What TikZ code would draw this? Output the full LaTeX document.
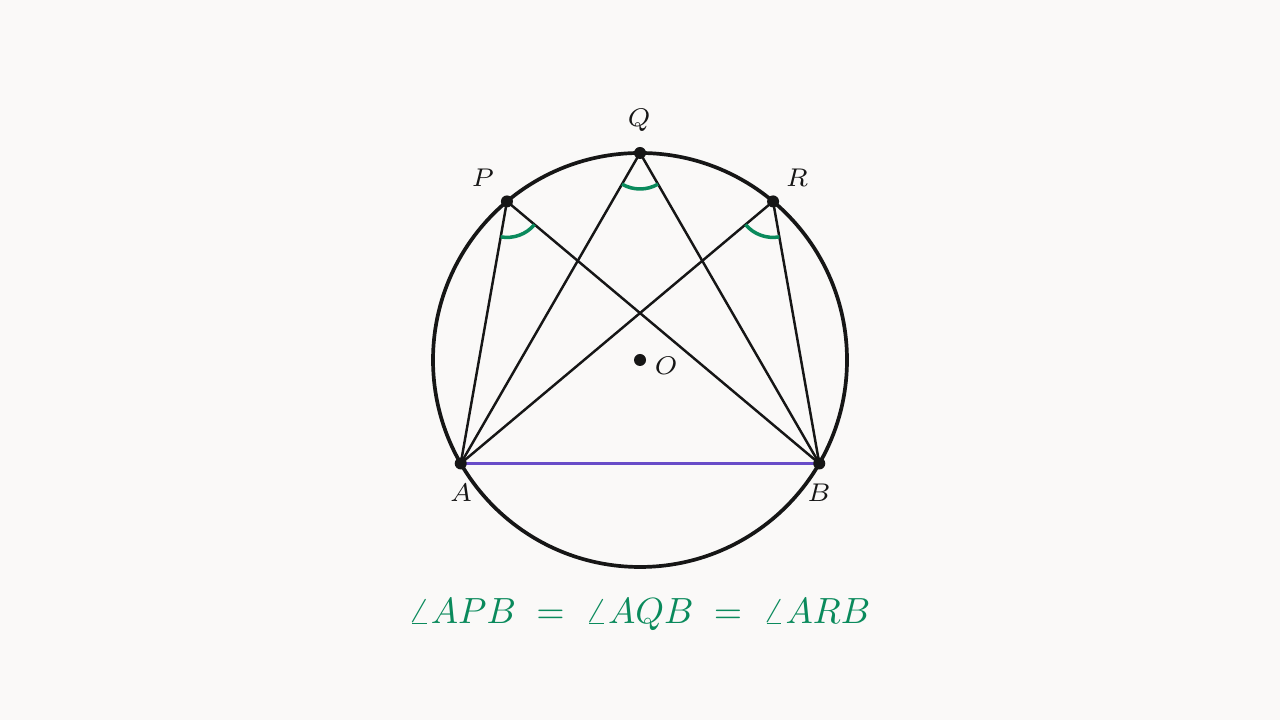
\documentclass[tikz,border=0pt]{standalone}
\usetikzlibrary{angles,calc}
\definecolor{bg}{RGB}{250,249,248}
\definecolor{ink}{RGB}{22,22,22}
\definecolor{angg}{RGB}{10,138,92}
\definecolor{chordc}{RGB}{104,76,200}
\tikzset{
  pt/.style={circle,fill=ink,inner sep=0pt,minimum size=0.12cm},
  lbl/.style={font=\fontsize{7pt}{9pt}\selectfont,text=ink,inner sep=0pt,scale=1.04},
  chordline/.style={draw=ink,line width=0.7pt},
  angarc/.style={draw=angg,line width=1pt,angle radius=0.36cm}
}
\begin{document}
\begin{tikzpicture}
\fill[bg] (0,0) rectangle (12.8,7.2);
\useasboundingbox (0,0) rectangle (12.8,7.2);
\coordinate (O) at (6.4,3.6);
\coordinate (A) at ($(O)+(210:2.07)$);
\coordinate (B) at ($(O)+(330:2.07)$);
\coordinate (P) at ($(O)+(130:2.07)$);
\coordinate (Q) at ($(O)+(90:2.07)$);
\coordinate (R) at ($(O)+(50:2.07)$);
\draw[ink,line width=1.05pt] (O) circle (2.07);
\draw[chordline] (A) -- (P) -- (B);
\draw[chordline] (A) -- (Q) -- (B);
\draw[chordline] (A) -- (R) -- (B);
\draw[chordc,line width=1pt] (A) -- (B);
\pic[angarc] {angle = A--P--B};
\pic[angarc] {angle = A--Q--B};
\pic[angarc] {angle = A--R--B};
\node[pt] (nA) at (A) {};
\node[pt] (nB) at (B) {};
\node[pt] (nP) at (P) {};
\node[pt] (nQ) at (Q) {};
\node[pt] (nR) at (R) {};
\node[pt] (nO) at (O) {};
\node[lbl] (lA) at (4.61,2.27) {$A$};
\node[lbl] (lB) at (8.19,2.27) {$B$};
\node[lbl] (lP) at (4.83,5.42) {$P$};
\node[lbl] (lQ) at (6.39,6.00) {$Q$};
\node[lbl] (lR) at (7.97,5.42) {$R$};
\node[lbl] (lO) at (6.66,3.54) {$O$};
\node[font=\fontsize{10pt}{12pt}\selectfont,text=angg,inner sep=0pt,scale=1.036] (eq) at (6.39,1.05) {$\angle APB \;=\; \angle AQB \;=\; \angle ARB$};
\end{tikzpicture}
\end{document}
